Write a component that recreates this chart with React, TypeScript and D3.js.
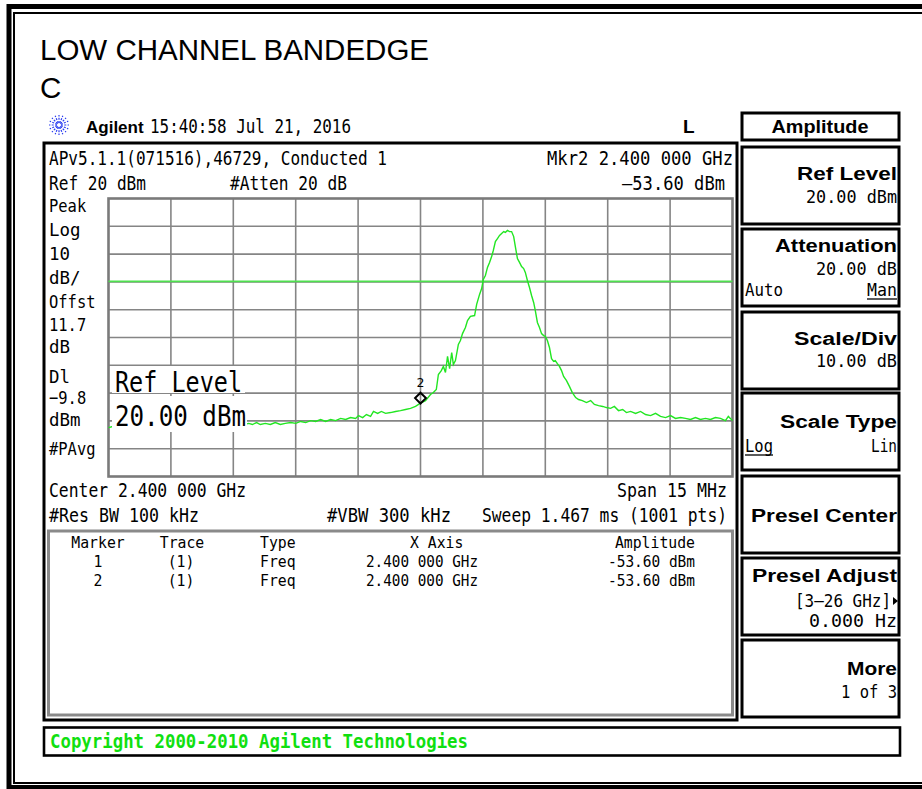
import * as d3 from 'd3';
import {useEffect, useRef} from 'react';

// sweep points (MHz, dBm)
const freqMHz = [
    2392.5, 2392.6, 2392.79, 2393.15, 2393.51, 2393.87, 2394.23, 2394.59, 2394.95, 2395.31,
    2395.67, 2395.87, 2395.96, 2396.06, 2396.15, 2396.27, 2396.39, 2396.51, 2396.63, 2396.75,
    2396.88, 2397.0, 2397.12, 2397.24, 2397.36, 2397.48, 2397.6, 2397.72, 2397.84, 2397.96,
    2398.08, 2398.2, 2398.32, 2398.44, 2398.51, 2398.61, 2398.7, 2398.8, 2398.87, 2398.97,
    2399.06, 2399.16, 2399.28, 2399.4, 2399.52, 2399.64, 2399.76, 2399.88, 2400.0, 2400.12,
    2400.24, 2400.31, 2400.38, 2400.43, 2400.5, 2400.55, 2400.6, 2400.65, 2400.7, 2400.75,
    2400.79, 2400.84, 2400.91, 2400.96, 2401.01, 2401.08, 2401.13, 2401.2, 2401.3, 2401.35,
    2401.42, 2401.47, 2401.51, 2401.56, 2401.61, 2401.66, 2401.71, 2401.75, 2401.8, 2401.85,
    2401.9, 2401.95, 2402.0, 2402.04, 2402.09, 2402.14, 2402.19, 2402.24, 2402.28, 2402.33,
    2402.38, 2402.43, 2402.48, 2402.52, 2402.57, 2402.62, 2402.67, 2402.72, 2402.76, 2402.81,
    2402.86, 2402.91, 2402.96, 2403.0, 2403.05, 2403.1, 2403.15, 2403.2, 2403.24, 2403.29,
    2403.34, 2403.39, 2403.44, 2403.51, 2403.58, 2403.65, 2403.73, 2403.8, 2403.89, 2403.99,
    2404.09, 2404.18, 2404.28, 2404.38, 2404.47, 2404.57, 2404.66, 2404.76, 2404.86, 2404.95,
    2405.05, 2405.17, 2405.29, 2405.41, 2405.53, 2405.65, 2405.77, 2405.89, 2406.01, 2406.13,
    2406.25, 2406.37, 2406.49, 2406.61, 2406.73, 2406.85, 2406.97, 2407.09, 2407.21, 2407.33,
    2407.4, 2407.5,
];
const levelDbm = [
    -62.4, -62.0, -62.4, -62.0, -62.4, -62.0, -62.0, -61.7, -62.0, -61.7,
    -61.7, -60.9, -61.3, -60.6, -61.3, -60.9, -61.3, -60.6, -61.3, -60.9,
    -60.6, -60.9, -60.2, -60.6, -59.9, -60.2, -59.5, -60.2, -59.5, -59.9,
    -59.1, -59.5, -58.8, -59.1, -58.1, -58.8, -57.7, -58.4, -56.6, -57.3,
    -56.6, -57.3, -57.0, -56.6, -56.3, -55.9, -55.5, -54.8, -53.6, -52.7,
    -50.5, -49.8, -48.7, -43.3, -41.9, -40.4, -42.6, -36.8, -41.2, -35.4,
    -39.7, -38.3, -32.5, -31.1, -28.6, -26.4, -23.9, -22.4, -22.1, -18.1,
    -14.5, -12.4, -9.1, -7.7, -4.8, -3.0, -0.9, 1.3, 4.5, 5.6,
    6.7, 7.4, 8.1, 7.8, 8.5, 8.1, 8.1, 6.3, 2.7, -1.6,
    -3.0, -4.5, -5.2, -6.6, -9.5, -12.0, -14.9, -17.4, -20.3, -24.6,
    -26.4, -28.6, -29.3, -29.6, -31.1, -33.6, -37.6, -38.6, -38.3, -39.4,
    -40.4, -41.9, -44.0, -45.5, -47.6, -49.8, -51.6, -52.3, -52.7, -53.4,
    -52.7, -54.1, -54.5, -54.8, -55.2, -55.5, -54.8, -56.3, -55.9, -57.0,
    -56.6, -57.3, -56.6, -57.7, -58.1, -57.3, -58.4, -58.8, -58.1, -59.1,
    -58.8, -59.1, -59.5, -58.8, -59.5, -59.1, -59.5, -58.8, -59.1, -59.9,
    -58.4, -59.9,
];

const refLevel = 20;
const scaleDiv = 10;
const displayLine = -9.8;
const centerMHz = 2400;
const spanMHz = 15;
const markerNums = [1, 2];
const markerFreqs = [2400.0, 2400.0];
const markerLevels = [-53.6, -53.6];

const leftLabels = ['Peak', 'Log', '10', 'dB/', 'Offst', '11.7', 'dB', 'Dl', '\u22129.8', 'dBm', '#PAvg'];
const leftBase = [212, 236, 260, 284, 308, 331, 353, 383, 404, 426, 455];

const MONO = '"DejaVu Sans Mono", "Liberation Mono", monospace';
const SANS = '"Liberation Sans", Arial, sans-serif';
const GREEN = '#22e622';

const fmtGHz = (mhz: number) => {
    const s = (mhz / 1000).toFixed(6);
    return `${s.slice(0, 5)} ${s.slice(5)} GHz`;
};

export default function App() {
    const ref = useRef(null);

    useEffect(() => {
        const svg = d3.select(ref.current);
        svg.selectAll('*').remove();

        // text helper: fixed widths are laid out from the left edge
        const T = (g: any, s: string, x: number, y: number, o: any = {}) => {
            const w = o.w ?? (o.cw === 0 ? null : s.length * (o.cw ?? 9.7));
            let anchor = o.anchor ?? 'start';
            let x0 = x;
            if (w && anchor === 'end') {
                x0 = x - w;
                anchor = 'start';
            } else if (w && anchor === 'middle') {
                x0 = x - w / 2;
                anchor = 'start';
            }
            let host = g;
            let ty = y;
            if (o.sy) {
                host = g.append('g').attr('transform', `translate(0,${y}) scale(1,${o.sy})`);
                ty = 0;
            }
            const t = host
                .append('text')
                .attr('x', x0)
                .attr('y', ty)
                .text(s)
                .attr('font-family', o.family ?? MONO)
                .attr('font-size', o.size ?? 20)
                .attr('text-anchor', anchor)
                .attr('fill', o.fill ?? '#000');
            if (o.weight) t.attr('font-weight', o.weight);
            if (w) t.attr('textLength', w).attr('lengthAdjust', 'spacingAndGlyphs');
            return t;
        };

        // outer double frame
        svg.append('rect').attr('x', 9).attr('y', 6.5).attr('width', 940).attr('height', 781)
            .attr('fill', 'none').attr('stroke', '#000').attr('stroke-width', 5);
        svg.append('rect').attr('x', 14).attr('y', 13).attr('width', 930).attr('height', 770)
            .attr('fill', 'none').attr('stroke', '#000').attr('stroke-width', 2);

        // title
        T(svg, 'LOW CHANNEL BANDEDGE', 40, 60, {family: SANS, size: 29.5, cw: 0});
        T(svg, 'C', 40, 98, {family: SANS, size: 29.5, cw: 0});

        // agilent star
        const star = svg.append('g').attr('transform', 'translate(59,125)');
        d3.range(16).forEach((i) => {
            const a = (i * Math.PI) / 8;
            star.append('line')
                .attr('x1', 2 * Math.cos(a)).attr('y1', 2 * Math.sin(a))
                .attr('x2', 10 * Math.cos(a)).attr('y2', 10 * Math.sin(a))
                .attr('stroke', '#2a3cf0').attr('stroke-width', 1.2).attr('stroke-dasharray', '2,1.3');
        });
        T(svg, 'Agilent', 86, 133, {family: SANS, size: 17, weight: 'bold', cw: 0});
        T(svg, '15:40:58  Jul 21, 2016', 150, 133, {w: 201});
        T(svg, 'L', 683, 133, {family: SANS, size: 19, weight: 'bold', cw: 0});

        // display frame
        svg.append('rect').attr('x', 44).attr('y', 143).attr('width', 693).attr('height', 577)
            .attr('fill', 'none').attr('stroke', '#000').attr('stroke-width', 3);

        T(svg, 'APv5.1.1(071516),46729, Conducted 1', 49, 165, {w: 338});
        T(svg, `Mkr${markerNums[1]}  ${fmtGHz(markerFreqs[1])}`, 733, 165, {anchor: 'end', w: 186});
        T(svg, `Ref ${refLevel} dBm`, 49, 190, {w: 97});
        T(svg, '#Atten 20 dB', 230, 190, {w: 117});
        T(svg, `\u2013${Math.abs(markerLevels[1]).toFixed(2)} dBm`, 725, 190, {anchor: 'end', w: 103});

        leftLabels.forEach((s, i) => T(svg, s, 49, leftBase[i], {size: 18, cw: s.length > 3 ? 9.3 : 10.5}));

        // graticule
        const x = d3.scaleLinear().domain([centerMHz - spanMHz / 2, centerMHz + spanMHz / 2]).range([108.5, 732.5]);
        const y = d3.scaleLinear().domain([refLevel - 10 * scaleDiv, refLevel]).range([476.5, 198.5]);
        const xt = d3.range(11).map((i) => x.domain()[0] + (i * spanMHz) / 10);
        const yt = d3.range(11).map((i) => refLevel - i * scaleDiv);

        const grid = svg.append('g');
        grid.selectAll('.vx').data(xt.slice(1, -1)).join('line')
            .attr('x1', (d) => x(d)).attr('x2', (d) => x(d)).attr('y1', y.range()[1]).attr('y2', y.range()[0])
            .attr('stroke', '#858585').attr('stroke-width', 1.6);
        grid.selectAll('.hy').data(yt.slice(1, -1)).join('line')
            .attr('y1', (d) => y(d)).attr('y2', (d) => y(d)).attr('x1', x.range()[0]).attr('x2', x.range()[1])
            .attr('stroke', '#858585').attr('stroke-width', 1.6);
        grid.append('rect').attr('x', x.range()[0]).attr('y', y.range()[1])
            .attr('width', x.range()[1] - x.range()[0]).attr('height', y.range()[0] - y.range()[1])
            .attr('fill', 'none').attr('stroke', '#7a7a7a').attr('stroke-width', 2.6);

        // display line
        svg.append('line').attr('x1', x.range()[0]).attr('x2', x.range()[1])
            .attr('y1', y(displayLine)).attr('y2', y(displayLine))
            .attr('stroke', '#4ee04e').attr('stroke-width', 1.6);

        // trace
        const pts = freqMHz.map((f, i) => [f, levelDbm[i]] as [number, number]);
        const line = d3.line<[number, number]>().x((d) => x(d[0])).y((d) => y(d[1]));
        svg.append('path').attr('d', line(pts)).attr('fill', 'none')
            .attr('stroke', GREEN).attr('stroke-width', 1.4);

        // marker 2
        const mx = x(markerFreqs[1]);
        const my = y(markerLevels[1]);
        const sym = (d3 as any).symbolDiamond2 ?? d3.symbolDiamond;
        svg.append('path').attr('d', d3.symbol().type(sym).size(75)())
            .attr('transform', `translate(${mx},${my - 5})`)
            .attr('fill', 'none').attr('stroke', '#000').attr('stroke-width', 2);
        T(svg, `${markerNums[1]}`, mx, my - 16, {anchor: 'middle', size: 13, cw: 0});

        // Ref Level annotation with white backing
        svg.append('rect').attr('x', 112).attr('y', 366).attr('width', 133).attr('height', 27).attr('fill', '#fff');
        svg.append('rect').attr('x', 112).attr('y', 396).attr('width', 135).attr('height', 36).attr('fill', '#fff');
        T(svg, 'Ref Level', 115, 392, {size: 29, w: 127});
        T(svg, `${refLevel.toFixed(2)} dBm`, 115, 426, {size: 29, w: 131});

        // lower annotations
        T(svg, `Center ${fmtGHz(centerMHz)}`, 49, 497, {w: 197});
        T(svg, `Span ${spanMHz} MHz`, 727, 497, {anchor: 'end', w: 110});
        T(svg, '#Res BW 100 kHz', 49, 522, {w: 150});
        T(svg, '#VBW 300 kHz', 327, 522, {w: 124});
        T(svg, 'Sweep 1.467 ms (1001 pts)', 727, 522, {anchor: 'end', w: 245, size: 17, sy: 20 / 17});

        // marker table
        svg.append('rect').attr('x', 48.5).attr('y', 531).attr('width', 684).attr('height', 184)
            .attr('fill', 'none').attr('stroke', '#8a8a8a').attr('stroke-width', 3);
        const tb = {size: 16, cw: 8.9};
        T(svg, 'Marker', 98, 548, {...tb, anchor: 'middle'});
        T(svg, 'Trace', 182, 548, {...tb, anchor: 'middle'});
        T(svg, 'Type', 260, 548, tb);
        T(svg, 'X Axis', 410, 548, tb);
        T(svg, 'Amplitude', 695, 548, {...tb, anchor: 'end'});
        markerNums.forEach((n, i) => {
            const by = 567 + i * 19;
            T(svg, `${n}`, 98, by, {...tb, anchor: 'middle'});
            T(svg, '(1)', 181, by, {...tb, anchor: 'middle'});
            T(svg, 'Freq', 260, by, tb);
            T(svg, fmtGHz(markerFreqs[i]), 366, by, {...tb, w: 112});
            T(svg, `${markerLevels[i].toFixed(2)} dBm`, 695, by, {...tb, anchor: 'end', w: 87});
        });

        // status line
        svg.append('rect').attr('x', 44).attr('y', 727.5).attr('width', 856).attr('height', 28)
            .attr('fill', 'none').attr('stroke', '#000').attr('stroke-width', 2.6);
        T(svg, 'Copyright 2000-2010 Agilent Technologies', 50, 748, {w: 418, weight: 'bold', fill: '#10e010', size: 19});

        // softkey panel
        const box = (top: number, h: number) =>
            svg.append('rect').attr('x', 742).attr('y', top).attr('width', 157).attr('height', h)
                .attr('fill', 'none').attr('stroke', '#000').attr('stroke-width', 3);
        const key = {family: SANS, weight: 'bold', size: 18};
        const val = {size: 17};
        box(113, 27);
        T(svg, 'Amplitude', 820, 133, {...key, anchor: 'middle', w: 97});

        const tops = [147, 229, 312, 393, 476, 558, 640];
        tops.forEach((t) => box(t, 77));
        const R = 897;
        T(svg, 'Ref Level', R, tops[0] + 33, {...key, anchor: 'end', w: 100});
        T(svg, '20.00 dBm', R, tops[0] + 56, {...val, anchor: 'end', w: 91});

        T(svg, 'Attenuation', R, tops[1] + 23, {...key, anchor: 'end', w: 122});
        T(svg, '20.00 dB', R, tops[1] + 46, {...val, anchor: 'end', w: 81});
        T(svg, 'Auto', 745, tops[1] + 67, {...val, w: 38});
        T(svg, 'Man', R, tops[1] + 67, {...val, anchor: 'end', w: 30});
        svg.append('line').attr('x1', 867).attr('x2', 897).attr('y1', tops[1] + 70).attr('y2', tops[1] + 70)
            .attr('stroke', '#000').attr('stroke-width', 1.3);

        T(svg, 'Scale/Div', R, tops[2] + 33, {...key, anchor: 'end', w: 103});
        T(svg, '10.00 dB', R, tops[2] + 55, {...val, anchor: 'end', w: 81});

        T(svg, 'Scale Type', R, tops[3] + 35, {...key, anchor: 'end', w: 117});
        T(svg, 'Log', 745, tops[3] + 59, {...val, w: 28});
        svg.append('line').attr('x1', 745).attr('x2', 773).attr('y1', tops[3] + 62).attr('y2', tops[3] + 62)
            .attr('stroke', '#000').attr('stroke-width', 1.3);
        T(svg, 'Lin', R, tops[3] + 59, {...val, anchor: 'end', w: 26});

        T(svg, 'Presel Center', R, tops[4] + 46, {...key, anchor: 'end', w: 146});

        T(svg, 'Presel Adjust', R, tops[5] + 24, {...key, anchor: 'end', w: 145});
        T(svg, '[3\u201326 GHz]', 891, tops[5] + 49, {...val, anchor: 'end', w: 96});
        svg.append('path').attr('d', `M893,${tops[5] + 39}L898,${tops[5] + 43}L893,${tops[5] + 47}Z`).attr('fill', '#000');
        T(svg, '0.000  Hz', R, tops[5] + 69, {...val, anchor: 'end', w: 88});

        T(svg, 'More', R, tops[6] + 35, {...key, anchor: 'end', w: 50});
        T(svg, '1 of 3', R, tops[6] + 58, {...val, anchor: 'end', w: 56});
    }, []);

    return (
        <svg
            ref={ref}
            width={922}
            height={789}
            style={{position: 'absolute', left: 0, top: 0, background: '#fff'}}
        />
    );
}
